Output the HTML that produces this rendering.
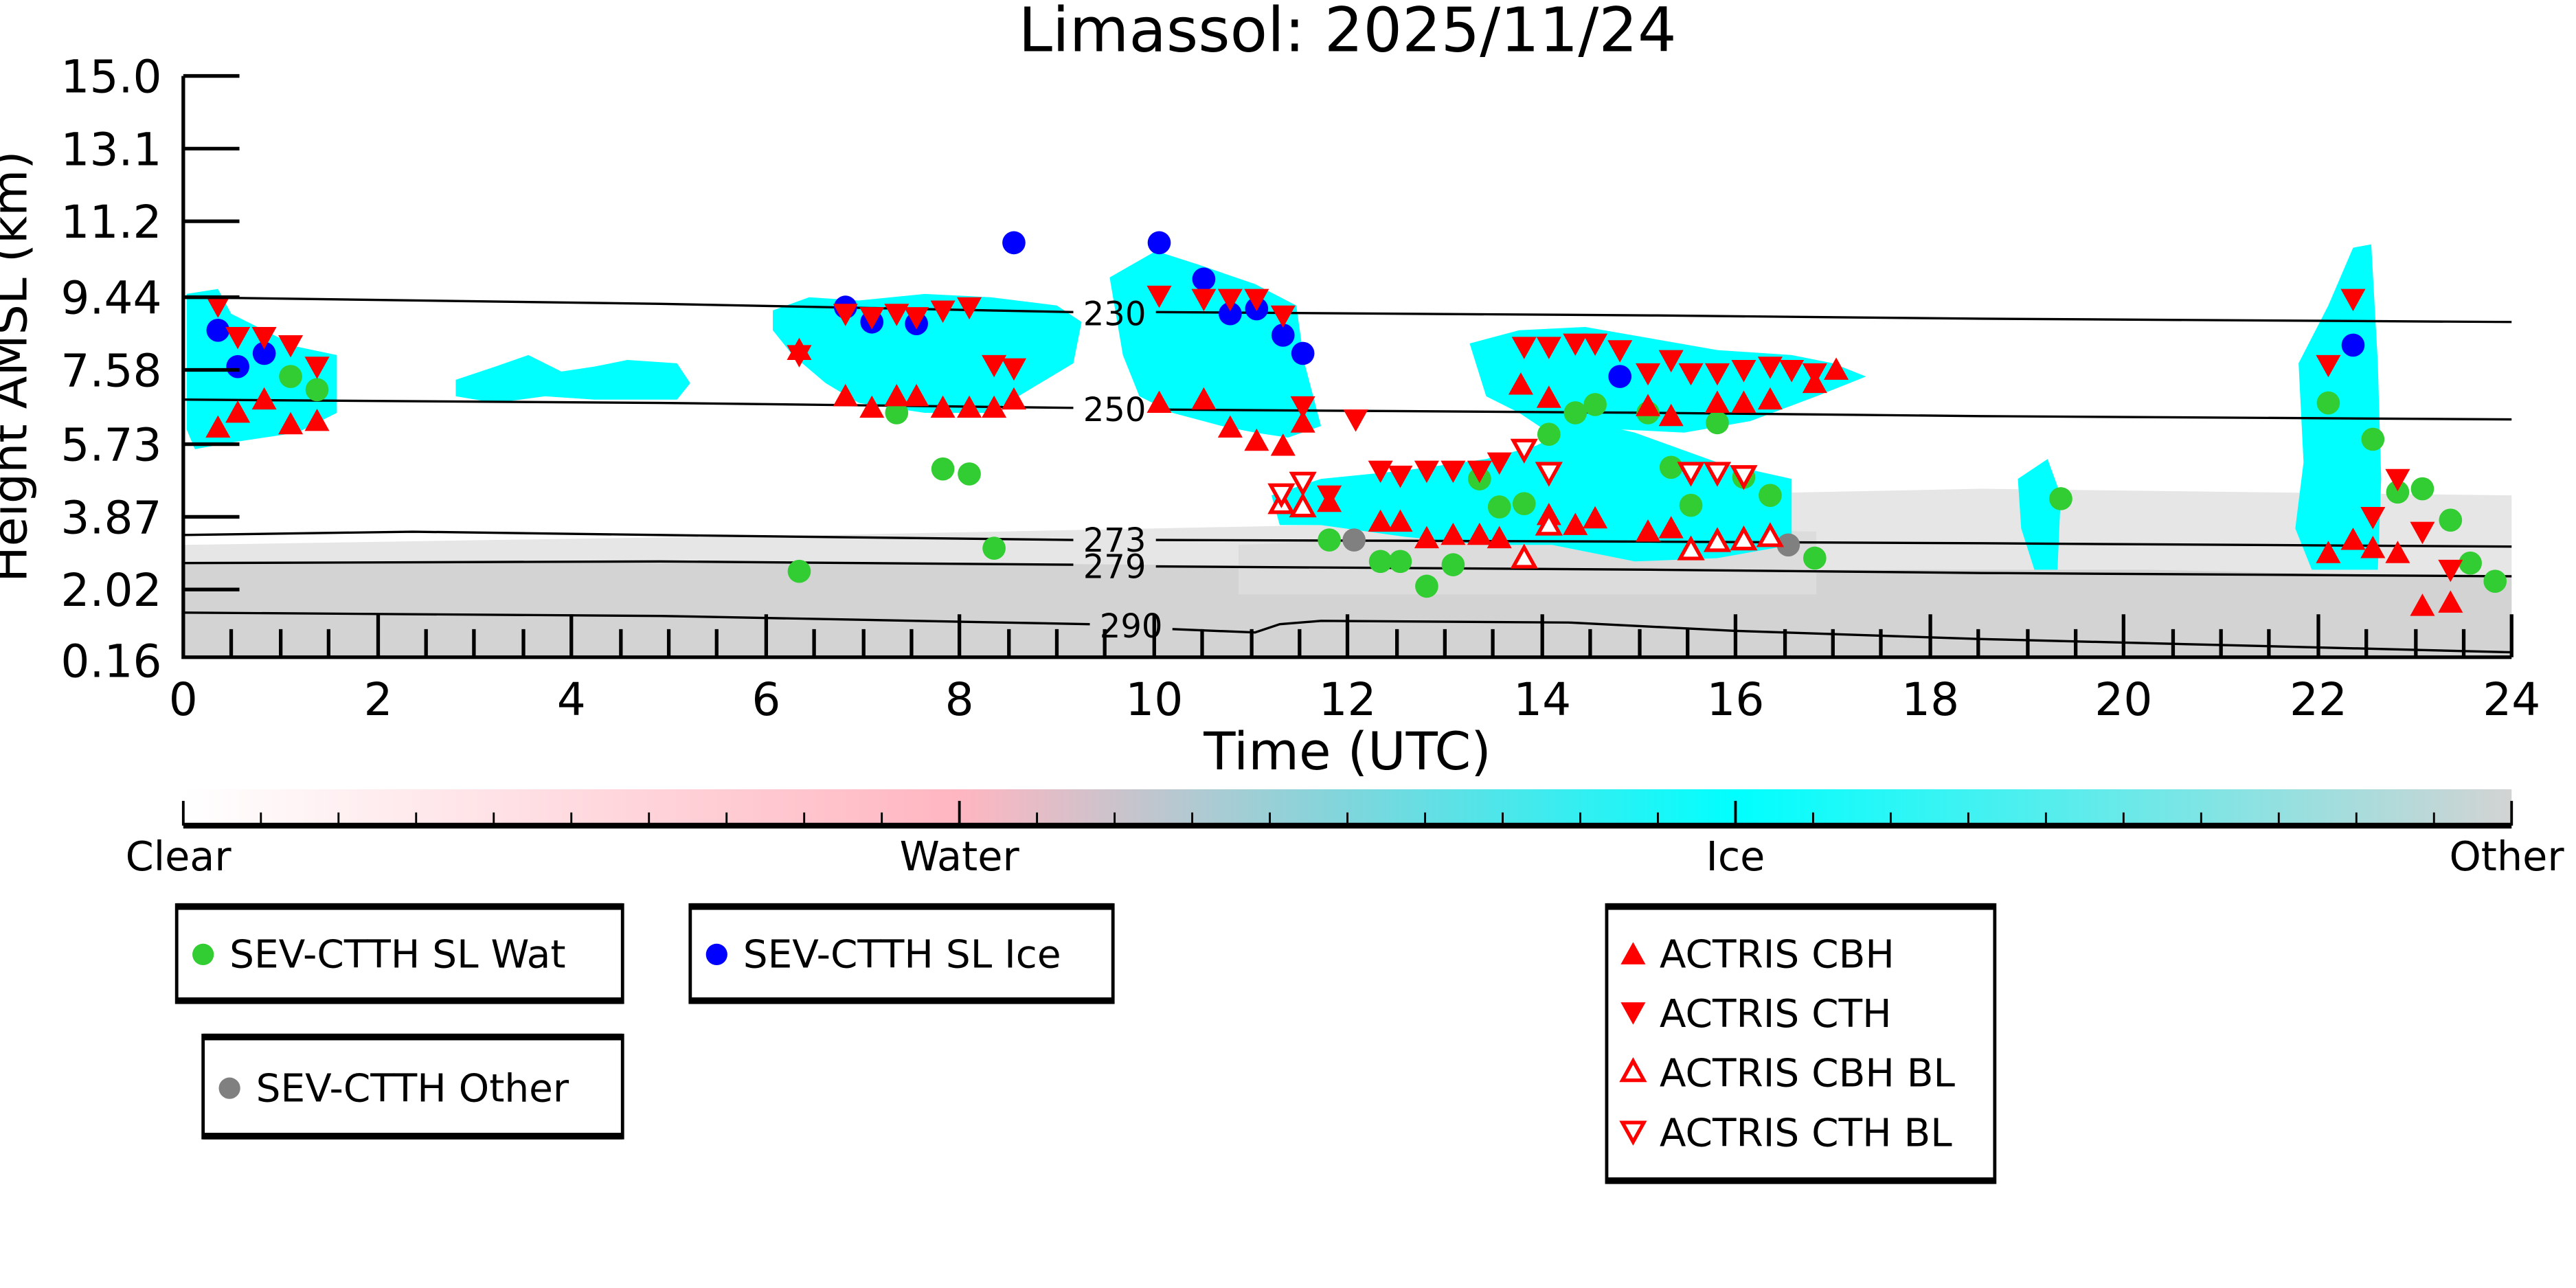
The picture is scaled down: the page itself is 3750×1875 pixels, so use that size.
<!DOCTYPE html>
<html><head><meta charset="utf-8"><style>html,body{margin:0;padding:0;background:#fff}svg{display:block}</style></head>
<body>
<svg xmlns="http://www.w3.org/2000/svg" width="3750" height="1875" viewBox="0 0 1560 780" font-family="'DejaVu Sans','Liberation Sans',sans-serif">
<defs>
<linearGradient id="cb" x1="0" x2="1" y1="0" y2="0">
<stop offset="0" stop-color="#ffffff"/><stop offset="0.333" stop-color="#ffb6c1"/><stop offset="0.5" stop-color="#7fd6dc"/><stop offset="0.667" stop-color="#00ffff"/><stop offset="1" stop-color="#d3d3d3"/>
</linearGradient>
<path id="u" d="M0,-7.5 L7.5,6 L-7.5,6Z" fill="#ff0000"/>
<path id="d" d="M0,7.5 L7.5,-6 L-7.5,-6Z" fill="#ff0000"/>
<path id="ou" d="M0,-6.5 L6.5,5.2 L-6.5,5.2Z" fill="#fff" stroke="#ff0000" stroke-width="2.2"/>
<path id="od" d="M0,6.5 L6.5,-5.2 L-6.5,-5.2Z" fill="#fff" stroke="#ff0000" stroke-width="2.2"/>
</defs>
<text x="816" y="31" font-size="37" text-anchor="middle">Limassol: 2025/11/24</text>
<!-- low cloud gray -->
<path d="M111,330 L300,327 L500,324 L800,318 L1000,300 L1200,296 L1521,300 L1521,398 L111,398Z" fill="#e6e6e6"/>
<path d="M111,340 L400,340 L700,342 L1000,345 L1300,345 L1521,350 L1521,398 L111,398Z" fill="#d3d3d3"/>
<path d="M750,330 L1000,320 L1100,322 L1100,360 L750,360Z" fill="#dcdcdc"/>
<!-- ice clouds -->
<g fill="#00ffff">
<path d="M113,178 L132,175 L140,190 L180,210 L204,215 L204,250 L180,262 L140,268 L118,272 L113,260Z"/>
<path d="M276,230 L300,222 L320,215 L340,225 L360,222 L380,218 L410,220 L418,232 L410,242 L360,242 L330,240 L300,244 L276,240Z"/>
<path d="M468,188 L490,180 L520,182 L560,178 L600,180 L640,185 L655,195 L650,220 L620,238 L600,250 L560,250 L520,244 L500,232 L480,215 L468,200Z"/>
<path d="M672,168 L700,152 L725,160 L760,172 L785,185 L790,220 L800,258 L780,265 L760,262 L740,258 L710,250 L690,240 L680,215Z"/>
<path d="M770,300 L800,290 L850,285 L900,278 L930,270 L960,255 L990,262 L1040,280 L1085,290 L1085,330 L1040,338 L990,340 L940,330 L900,330 L850,325 L800,318 L775,318Z"/>
<path d="M890,208 L920,200 L960,198 L1000,205 L1040,212 L1085,215 L1110,220 L1130,228 L1100,240 L1060,255 L1020,262 L980,260 L950,270 L920,250 L900,240Z"/>
<path d="M1222,290 L1240,278 L1248,300 L1246,345 L1232,345 L1224,320Z"/>
<path d="M1392,220 L1410,185 L1425,150 L1436,148 L1440,220 L1442,290 L1440,345 L1400,345 L1390,320 L1395,280Z"/>
</g>
<!-- contours -->
<g fill="none" stroke="#000" stroke-width="1.4">
<path d="M111,180 L400,184 L650,189 M700,189 L1000,191 L1200,193 L1521,195"/>
<path d="M111,242 L400,244 L650,247 M700,248 L1000,250 L1200,252 L1521,254"/>
<path d="M111,324 L250,322 L400,324 L650,327 M700,327 L1000,328 L1200,329 L1521,331"/>
<path d="M111,341 L400,340 L650,342 M700,343 L1000,345 L1200,347 L1521,349"/>
<path d="M111,371 L400,373 L660,378 M710,381 L760,383 L775,378 L800,376 L950,377 L1050,382 L1200,387 L1521,395"/>
</g>
<g font-size="20" text-anchor="middle">
<text x="675" y="197">230</text><text x="675" y="255">250</text><text x="675" y="334">273</text><text x="675" y="350">279</text><text x="685" y="386">290</text>
</g>
<!-- markers -->
<g fill="#32cd32">
<circle cx="176" cy="228" r="7"/><circle cx="192" cy="236" r="7"/><circle cx="484" cy="346" r="7"/><circle cx="543" cy="250" r="7"/><circle cx="571" cy="284" r="7"/><circle cx="587" cy="287" r="7"/><circle cx="602" cy="332" r="7"/><circle cx="805" cy="327" r="7"/><circle cx="836" cy="340" r="7"/><circle cx="848" cy="340" r="7"/><circle cx="864" cy="355" r="7"/><circle cx="880" cy="342" r="7"/><circle cx="896" cy="290" r="7"/><circle cx="908" cy="307" r="7"/><circle cx="923" cy="305" r="7"/><circle cx="938" cy="263" r="7"/><circle cx="954" cy="250" r="7"/><circle cx="966" cy="245" r="7"/><circle cx="998" cy="250" r="7"/><circle cx="1012" cy="283" r="7"/><circle cx="1024" cy="306" r="7"/><circle cx="1040" cy="256" r="7"/><circle cx="1056" cy="289" r="7"/><circle cx="1072" cy="300" r="7"/><circle cx="1099" cy="338" r="7"/><circle cx="1248" cy="302" r="7"/><circle cx="1410" cy="244" r="7"/><circle cx="1437" cy="266" r="7"/><circle cx="1452" cy="298" r="7"/><circle cx="1467" cy="296" r="7"/><circle cx="1484" cy="315" r="7"/><circle cx="1496" cy="341" r="7"/><circle cx="1511" cy="352" r="7"/>
</g>
<g fill="#0000ff">
<circle cx="132" cy="200" r="7"/><circle cx="144" cy="222" r="7"/><circle cx="160" cy="214" r="7"/><circle cx="512" cy="186" r="7"/><circle cx="528" cy="195" r="7"/><circle cx="555" cy="196" r="7"/><circle cx="614" cy="147" r="7"/><circle cx="702" cy="147" r="7"/><circle cx="729" cy="169" r="7"/><circle cx="745" cy="190" r="7"/><circle cx="761" cy="187" r="7"/><circle cx="777" cy="203" r="7"/><circle cx="789" cy="214" r="7"/><circle cx="981" cy="228" r="7"/><circle cx="1425" cy="209" r="7"/>
</g>
<g fill="#808080"><circle cx="820" cy="327" r="7"/><circle cx="1083" cy="330" r="7"/></g>
<g>
<use href="#u" x="132" y="259"/><use href="#u" x="144" y="250"/><use href="#u" x="160" y="242"/><use href="#u" x="176" y="257"/><use href="#u" x="192" y="255"/><use href="#u" x="484" y="212"/><use href="#u" x="512" y="240"/><use href="#u" x="528" y="247"/><use href="#u" x="543" y="240"/><use href="#u" x="555" y="240"/><use href="#u" x="571" y="247"/><use href="#u" x="587" y="247"/><use href="#u" x="602" y="247"/><use href="#u" x="614" y="242"/><use href="#u" x="702" y="244"/><use href="#u" x="729" y="242"/><use href="#u" x="745" y="259"/><use href="#u" x="761" y="267"/><use href="#u" x="777" y="270"/><use href="#u" x="789" y="256"/><use href="#u" x="805" y="304"/><use href="#u" x="836" y="316"/><use href="#u" x="848" y="316"/><use href="#u" x="864" y="326"/><use href="#u" x="880" y="324"/><use href="#u" x="896" y="324"/><use href="#u" x="908" y="326"/><use href="#u" x="938" y="312"/><use href="#u" x="954" y="318"/><use href="#u" x="966" y="314"/><use href="#u" x="998" y="322"/><use href="#u" x="1012" y="320"/><use href="#u" x="1410" y="335"/><use href="#u" x="1425" y="327"/><use href="#u" x="1437" y="332"/><use href="#u" x="1452" y="335"/><use href="#u" x="1467" y="367"/><use href="#u" x="1484" y="365"/>
<use href="#u" x="921" y="233"/><use href="#u" x="938" y="241"/><use href="#u" x="998" y="246"/><use href="#u" x="1012" y="252"/><use href="#u" x="1040" y="244"/><use href="#u" x="1056" y="244"/><use href="#u" x="1072" y="242"/><use href="#u" x="1099" y="232"/><use href="#u" x="1112" y="224"/>
<use href="#d" x="132" y="185"/><use href="#d" x="144" y="204"/><use href="#d" x="160" y="204"/><use href="#d" x="176" y="209"/><use href="#d" x="192" y="222"/><use href="#d" x="484" y="215"/><use href="#d" x="512" y="190"/><use href="#d" x="528" y="192"/><use href="#d" x="543" y="190"/><use href="#d" x="555" y="192"/><use href="#d" x="571" y="188"/><use href="#d" x="587" y="186"/><use href="#d" x="602" y="221"/><use href="#d" x="614" y="223"/><use href="#d" x="702" y="179"/><use href="#d" x="729" y="181"/><use href="#d" x="745" y="181"/><use href="#d" x="761" y="181"/><use href="#d" x="777" y="191"/><use href="#d" x="789" y="246"/><use href="#d" x="805" y="300"/><use href="#d" x="821" y="254"/><use href="#d" x="836" y="285"/><use href="#d" x="848" y="288"/><use href="#d" x="864" y="285"/><use href="#d" x="880" y="285"/><use href="#d" x="896" y="285"/><use href="#d" x="908" y="280"/><use href="#d" x="923" y="210"/><use href="#d" x="938" y="210"/><use href="#d" x="954" y="208"/><use href="#d" x="966" y="208"/><use href="#d" x="981" y="212"/><use href="#d" x="998" y="226"/><use href="#d" x="1012" y="218"/><use href="#d" x="1024" y="226"/><use href="#d" x="1040" y="226"/><use href="#d" x="1056" y="224"/><use href="#d" x="1072" y="222"/><use href="#d" x="1085" y="224"/><use href="#d" x="1099" y="226"/><use href="#d" x="1410" y="221"/><use href="#d" x="1425" y="181"/><use href="#d" x="1437" y="313"/><use href="#d" x="1452" y="290"/><use href="#d" x="1467" y="322"/><use href="#d" x="1484" y="345"/>
<use href="#ou" x="776" y="305"/><use href="#ou" x="789" y="307"/><use href="#ou" x="923" y="338"/><use href="#ou" x="938" y="318"/><use href="#ou" x="1024" y="333"/><use href="#ou" x="1040" y="328"/><use href="#ou" x="1056" y="327"/><use href="#ou" x="1072" y="325"/>
<use href="#od" x="776" y="299"/><use href="#od" x="789" y="292"/><use href="#od" x="923" y="272"/><use href="#od" x="938" y="286"/><use href="#od" x="1024" y="286"/><use href="#od" x="1040" y="286"/><use href="#od" x="1056" y="288"/>
</g>
<!-- axes -->
<g stroke="#000" stroke-width="2.2" fill="none">
<path d="M111,46 L111,398 L1521,398"/>
<path d="M111,46 h34 M111,90 h34 M111,134 h34 M111,180 h34 M111,224 h34 M111,269 h34 M111,313 h34 M111,357 h34"/>
<path d="M229,398 v-26 M346,398 v-26 M464,398 v-26 M581,398 v-26 M699,398 v-26 M816,398 v-26 M934,398 v-26 M1051,398 v-26 M1169,398 v-26 M1286,398 v-26 M1404,398 v-26 M1521,398 v-26"/>
<path d="M140,398 v-17 M170,398 v-17 M199,398 v-17 M258,398 v-17 M287,398 v-17 M317,398 v-17 M376,398 v-17 M405,398 v-17 M434,398 v-17 M493,398 v-17 M523,398 v-17 M552,398 v-17 M611,398 v-17 M640,398 v-17 M669,398 v-17 M728,398 v-17 M758,398 v-17 M787,398 v-17 M846,398 v-17 M875,398 v-17 M904,398 v-17 M963,398 v-17 M993,398 v-17 M1022,398 v-17 M1081,398 v-17 M1110,398 v-17 M1139,398 v-17 M1198,398 v-17 M1228,398 v-17 M1257,398 v-17 M1316,398 v-17 M1345,398 v-17 M1374,398 v-17 M1433,398 v-17 M1463,398 v-17 M1492,398 v-17"/>
</g>
<g font-size="27.5" text-anchor="end">
<text x="98" y="56">15.0</text><text x="98" y="100">13.1</text><text x="98" y="144">11.2</text><text x="98" y="190">9.44</text><text x="98" y="234">7.58</text><text x="98" y="279">5.73</text><text x="98" y="323">3.87</text><text x="98" y="367">2.02</text><text x="98" y="410">0.16</text>
</g>
<g font-size="27.5" text-anchor="middle">
<text x="111" y="433">0</text><text x="229" y="433">2</text><text x="346" y="433">4</text><text x="464" y="433">6</text><text x="581" y="433">8</text><text x="699" y="433">10</text><text x="816" y="433">12</text><text x="934" y="433">14</text><text x="1051" y="433">16</text><text x="1169" y="433">18</text><text x="1286" y="433">20</text><text x="1404" y="433">22</text><text x="1521" y="433">24</text>
</g>
<text x="816" y="466" font-size="31.5" text-anchor="middle">Time (UTC)</text>
<text transform="translate(16,222) rotate(-90)" font-size="29" text-anchor="middle">Height AMSL (km)</text>
<!-- colorbar -->
<rect x="111" y="478" width="1410" height="21" fill="url(#cb)"/>
<path d="M111,500 H1521" stroke="#000" stroke-width="3.5"/>
<g stroke="#000" stroke-width="1.2">
<path d="M111,500 v-15 M581,500 v-15 M1051,500 v-15 M1521,500 v-15" stroke-width="1.6"/>
<path d="M158,500 v-8 M205,500 v-8 M252,500 v-8 M299,500 v-8 M346,500 v-8 M393,500 v-8 M440,500 v-8 M487,500 v-8 M534,500 v-8 M628,500 v-8 M675,500 v-8 M722,500 v-8 M769,500 v-8 M816,500 v-8 M863,500 v-8 M910,500 v-8 M957,500 v-8 M1004,500 v-8 M1098,500 v-8 M1145,500 v-8 M1192,500 v-8 M1239,500 v-8 M1286,500 v-8 M1333,500 v-8 M1380,500 v-8 M1427,500 v-8 M1474,500 v-8"/>
</g>
<g font-size="24.5" text-anchor="middle">
<text x="108" y="527">Clear</text><text x="581" y="527">Water</text><text x="1051" y="527">Ice</text><text x="1518" y="527">Other</text>
</g>
<!-- legends -->
<g fill="none" stroke="#000" stroke-width="2">
<rect x="107" y="548" width="270" height="59"/><rect x="418" y="548" width="256" height="59"/><rect x="123" y="627" width="254" height="62"/><rect x="973" y="548" width="235" height="168"/>
</g>
<g fill="#000">
<rect x="107" y="547" width="270" height="4"/><rect x="107" y="604" width="270" height="4"/>
<rect x="418" y="547" width="256" height="4"/><rect x="418" y="604" width="256" height="4"/>
<rect x="123" y="626" width="254" height="4"/><rect x="123" y="686" width="254" height="4"/>
<rect x="973" y="547" width="235" height="4"/><rect x="973" y="713" width="235" height="4"/>
</g>
<g font-size="23.5">
<circle cx="123" cy="578" r="6.5" fill="#32cd32"/><text x="139" y="586">SEV-CTTH SL Wat</text>
<circle cx="434" cy="578" r="6.5" fill="#0000ff"/><text x="450" y="586">SEV-CTTH SL Ice</text>
<circle cx="139" cy="659" r="6.5" fill="#808080"/><text x="155" y="667">SEV-CTTH Other</text>
<use href="#u" x="989" y="578"/><text x="1005" y="586">ACTRIS CBH</text>
<use href="#d" x="989" y="613"/><text x="1005" y="622">ACTRIS CTH</text>
<use href="#ou" x="989" y="649"/><text x="1005" y="658">ACTRIS CBH BL</text>
<use href="#od" x="989" y="685"/><text x="1005" y="694">ACTRIS CTH BL</text>
</g>
</svg>
</body></html>
